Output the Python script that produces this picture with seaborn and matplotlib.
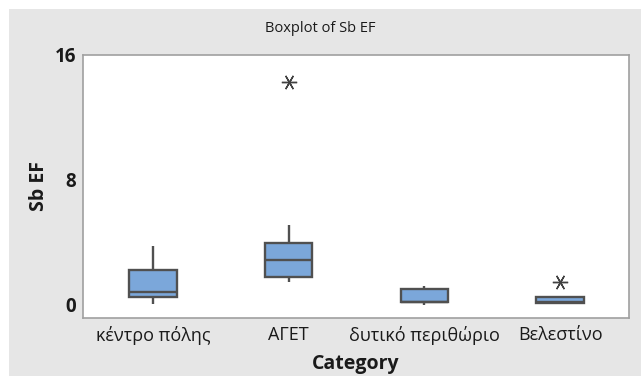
import matplotlib
matplotlib.use("Agg")
import matplotlib.pyplot as plt
import seaborn as sns
import pandas as pd
from matplotlib.patches import Rectangle

categories = ["κέντρο πόλης", "ΑΓΕΤ", "δυτικό περιθώριο", "Βελεστίνο"]
# 9 values per group: Q1 = 3rd, median = 5th, Q3 = 7th value
kentro = [0.06, 0.30, 0.49, 0.60, 0.81, 1.50, 2.24, 3.00, 3.80]
aget = [1.50, 1.70, 1.81, 2.30, 2.86, 3.50, 4.00, 5.15, 14.30]
dytiko = [0.00, 0.10, 0.17, 0.18, 0.20, 0.60, 1.00, 1.10, 1.24]
velestino = [0.05, 0.10, 0.15, 0.18, 0.22, 0.40, 0.51, 0.51, 1.50]
yticks = [0, 8, 16]

groups = [kentro, aget, dytiko, velestino]
df = pd.DataFrame({
    "Category": [c for c, g in zip(categories, groups) for _ in g],
    "Sb EF": [v for g in groups for v in g],
})

sns.set_style("white")
plt.rcParams["font.family"] = ["Open Sans", "DejaVu Sans"]

W, H = 641, 376
fig = plt.figure(figsize=(W / 100, H / 100), dpi=100, facecolor="#e6e6e6")
ax = fig.add_axes([83 / W, 1 - 318 / H, (629 - 83) / W, (318 - 55) / H])
ax.set_facecolor("white")

# white strips at top and left like the reference export
fig.patches.append(Rectangle((0, 0), 9 / W, 1, transform=fig.transFigure,
                             facecolor="white", edgecolor="none", zorder=-1))
fig.patches.append(Rectangle((0, 1 - 9 / H), 1, 9 / H, transform=fig.transFigure,
                             facecolor="white", edgecolor="none", zorder=-1))

sns.boxplot(data=df, x="Category", y="Sb EF", order=categories, ax=ax,
            width=0.35, color="#7ba7da", linecolor="#505050", linewidth=1.7,
            whis=1.5, showcaps=False, saturation=1,
            flierprops=dict(marker=(6, 2, 90), markersize=11,
                            markeredgecolor="#404040", markeredgewidth=1.0))

ax.set_ylim(-0.832, 16)
ax.set_xlim(-0.515, 3.507)
ax.set_yticks(yticks)
ax.set_yticklabels([str(t) for t in yticks], fontsize=13.5, fontweight="bold",
                   color="#1a1a1a")
ax.set_xticks(range(len(categories)))
ax.set_xticklabels(categories, fontsize=13, color="#1a1a1a")
ax.tick_params(axis="both", which="both", direction="out", length=3, width=0.8,
               color="#a0a0a0", pad=2)
ax.tick_params(axis="x", pad=3)
for s in ax.spines.values():
    s.set_color("#a0a0a0")
    s.set_linewidth(1.2)

ax.set_ylabel("Sb EF", fontsize=14, fontweight="bold", color="#1a1a1a", labelpad=4)
ax.set_xlabel("Category", fontsize=14, fontweight="bold", color="#1a1a1a", labelpad=6)
fig.text(0.5, 1 - 28 / H, "Boxplot of Sb EF", ha="center",
         va="center", fontsize=10.5, color="#1a1a1a")

fig.savefig("out.png", dpi=100, facecolor=fig.get_facecolor())
